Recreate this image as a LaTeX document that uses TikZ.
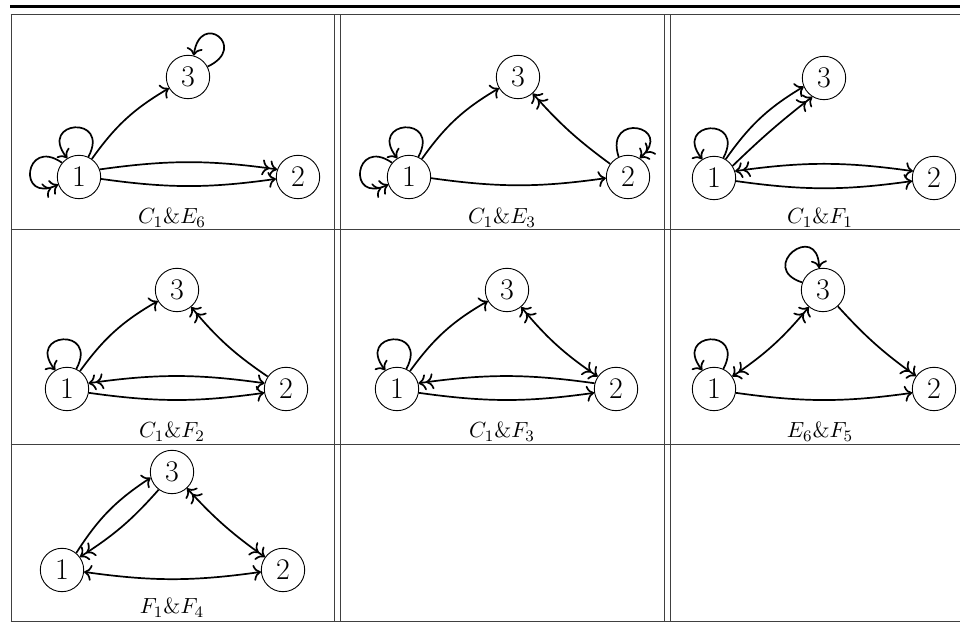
\documentclass[tikz,border=0pt]{standalone}
\usetikzlibrary{arrows.meta}
\tikzset{
  mytip/.tip={To[length=3.8pt,width=8pt]},
  mydtip/.tip={To[length=3.8pt,width=8pt,sep=0pt]To[length=3.8pt,width=8pt]},
  vtx/.style={circle,draw,line width=0.45pt,minimum size=21.7pt,inner sep=0pt,font=\fontsize{15}{17}\selectfont},
  edg/.style={line width=0.85pt},
  tabline/.style={line width=0.5pt,draw=black!75},
  lbl/.style={font=\fontsize{11.4}{13}\selectfont},
}
\begin{document}
\begin{tikzpicture}[x=0.5pt,y=0.5pt]
\useasboundingbox (0,0) rectangle (960,625);
% table rules
\draw[line width=1.75pt] (10,618.25) -- (960,618.25);
\draw[tabline] (10.5,610) -- (960,610);
\draw[tabline] (10.5,395) -- (960,395);
\draw[tabline] (10.5,180) -- (960,180);
\draw[tabline] (10.5,3) -- (960,3);
\foreach \xx in {11,334,340,664,670} \draw[tabline] (\xx,3) -- (\xx,610);

% ---------- Panel 1: C1&E6
\node[vtx] (a1) at (79,448) {1};
\node[vtx] (a2) at (298,448) {2};
\node[vtx] (a3) at (188,548) {3};
\node[lbl] (la) at (172,407) {$C_1\&E_6$};
\draw[edg,-{mytip}] (a1) to[bend left=12] (a3);
\draw[edg,-{mydtip}] (a1.20) to[bend left=8] (a2.160);
\draw[edg,-{mytip}] (a1.-5) to[bend right=8] (a2.-175);
\draw[edg,-{mytip}] (a1.65) .. controls +(62:24pt) and +(128:24pt) .. (a1.122);
\draw[edg,-{mydtip}] (a1.140) .. controls +(145:23pt) and +(205:23pt) .. (a1.200);
\draw[edg,-{mytip}] (a3.28) .. controls +(25:23pt) and +(82:23pt) .. (a3.75);

% ---------- Panel 2: C1&E3
\node[vtx] (b1) at (409,448) {1};
\node[vtx] (b2) at (628,448) {2};
\node[vtx] (b3) at (518,548) {3};
\node[lbl] (lb) at (502,407) {$C_1\&E_3$};
\draw[edg,-{mytip}] (b1) to[bend left=12] (b3);
\draw[edg,-{mytip}] (b1.-3) to[bend right=8] (b2.-177);
\draw[edg,-{mydtip}] (b2) to[bend left=6] (b3);
\draw[edg,-{mytip}] (b1.65) .. controls +(62:24pt) and +(128:24pt) .. (b1.122);
\draw[edg,-{mydtip}] (b1.140) .. controls +(145:23pt) and +(205:23pt) .. (b1.200);
\draw[edg,-{mydtip}] (b2.115) .. controls +(108:24pt) and +(42:24pt) .. (b2.58);

% ---------- Panel 3: C1&F1
\node[vtx] (c1) at (714,447) {1};
\node[vtx] (c2) at (934,447) {2};
\node[vtx] (c3) at (824,547) {3};
\node[lbl] (lc) at (820,407) {$C_1\&F_1$};
\draw[edg,-{mytip}] (c1.58) to[bend left=12] (c3.203);
\draw[edg,-{mydtip}] (c1.33) to[bend left=3] (c3.238);
\draw[edg,{mydtip}-{mytip}] (c1.18) to[bend left=8] (c2.162);
\draw[edg,-{mytip}] (c1.-8) to[bend right=8] (c2.-172);
\draw[edg,-{mytip}] (c1.65) .. controls +(62:24pt) and +(128:24pt) .. (c1.122);

% ---------- Panel 4: C1&F2
\node[vtx] (d1) at (67,236) {1};
\node[vtx] (d2) at (286,236) {2};
\node[vtx] (d3) at (177,335) {3};
\node[lbl] (ld) at (172,193) {$C_1\&F_2$};
\draw[edg,-{mytip}] (d1) to[bend left=12] (d3);
\draw[edg,-{mydtip}] (d2) to[bend left=8] (d3);
\draw[edg,{mydtip}-{mytip}] (d1.15) to[bend left=8] (d2.165);
\draw[edg,-{mytip}] (d1.-10) to[bend right=8] (d2.-170);
\draw[edg,-{mytip}] (d1.65) .. controls +(62:24pt) and +(128:24pt) .. (d1.122);

% ---------- Panel 5: C1&F3
\node[vtx] (e1) at (397,236) {1};
\node[vtx] (e2) at (616,236) {2};
\node[vtx] (e3) at (507,335) {3};
\node[lbl] (le) at (502,193) {$C_1\&F_3$};
\draw[edg,-{mytip}] (e1) to[bend left=12] (e3);
\draw[edg,{mydtip}-{mydtip}] (e2) to[bend left=8] (e3);
\draw[edg,{mydtip}-] (e1.15) to[bend left=8] (e2.165);
\draw[edg,-{mytip}] (e1.-10) to[bend right=8] (e2.-170);
\draw[edg,-{mytip}] (e1.65) .. controls +(62:24pt) and +(128:24pt) .. (e1.122);

% ---------- Panel 6: E6&F5
\node[vtx] (f1) at (714,236) {1};
\node[vtx] (f2) at (934,236) {2};
\node[vtx] (f3) at (823,335) {3};
\node[lbl] (lf) at (820,193) {$E_6\&F_5$};
\draw[edg,{mydtip}-{mydtip}] (f1) to[bend right=8] (f3);
\draw[edg,-{mydtip}] (f3) to[bend right=6] (f2);
\draw[edg,-{mytip}] (f1.-10) to[bend right=8] (f2.-170);
\draw[edg,-{mytip}] (f1.65) .. controls +(62:24pt) and +(128:24pt) .. (f1.122);
\draw[edg,-{mytip}] (f3.160) .. controls +(162:24pt) and +(92:24pt) .. (f3.100);

% ---------- Panel 7: F1&F4
\node[vtx] (g1) at (62,55) {1};
\node[vtx] (g2) at (283,55) {2};
\node[vtx] (g3) at (172,153) {3};
\node[lbl] (lg) at (172,17) {$F_1\&F_4$};
\draw[edg,-{mytip}] (g1.50) to[bend left=12] (g3.195);
\draw[edg,-{mydtip}] (g3.233) to[bend left=8] (g1.36);
\draw[edg,{mydtip}-{mydtip}] (g2) to[bend left=6] (g3);
\draw[edg,{mytip}-{mytip}] (g1.-5) to[bend right=8] (g2.-175);
\end{tikzpicture}
\end{document}
